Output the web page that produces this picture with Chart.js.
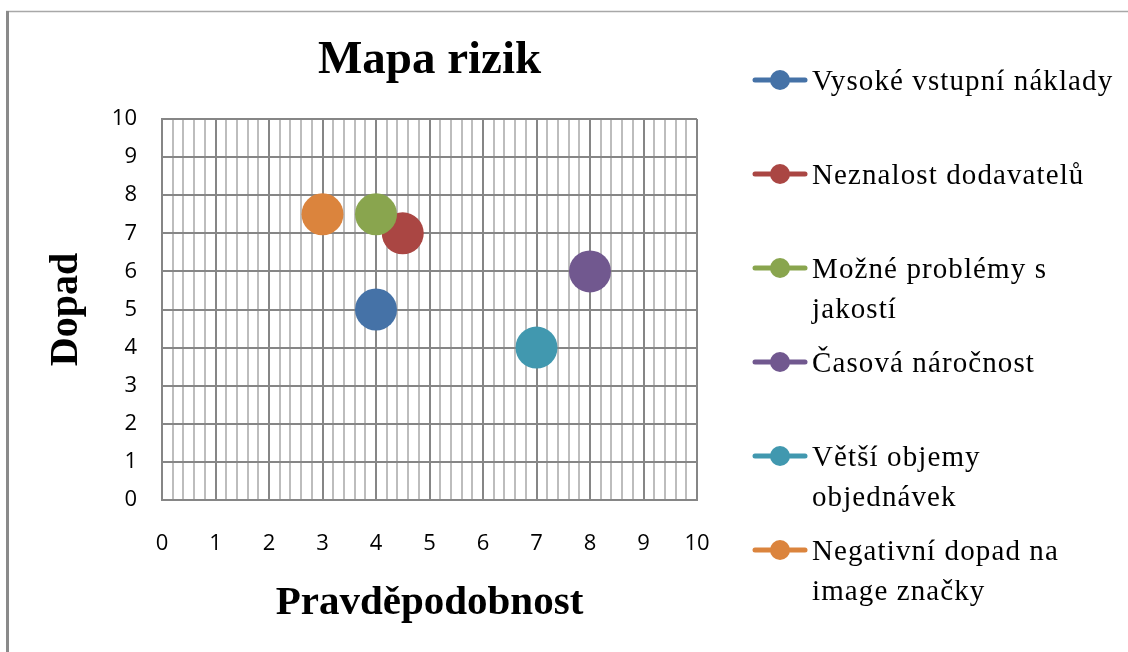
<!DOCTYPE html>
<html lang="cs">
<head>
<meta charset="utf-8">
<title>Mapa rizik</title>
<script src="https://cdn.jsdelivr.net/npm/chart.js@4.4.1/dist/chart.umd.min.js"></script>
<style>
  html, body { margin: 0; padding: 0; background: #fff; }
  #wrap { position: relative; width: 1128px; height: 652px; }
</style>
</head>
<body>
<div id="wrap"><canvas id="riskChart" width="1128" height="652"></canvas></div>
<script>
(function () {
  'use strict';

  // ── Data ────────────────────────────────────────────────────────────────
  var chartTitle = 'Mapa rizik';
  var xTitle = 'Pravděpodobnost';
  var yTitle = 'Dopad';

  var riskNames = [
    'Vysoké vstupní náklady',
    'Neznalost dodavatelů',
    'Možné problémy s jakostí',
    'Časová náročnost',
    'Větší objemy objednávek',
    'Negativní dopad na image značky'
  ];
  var probability = [4, 4.5, 4, 8, 7, 3];
  var impact = [5, 7, 7.5, 6, 4, 7.5];
  var riskColors = ['#4572A7', '#AA4643', '#89A54E', '#71588F', '#4198AF', '#DB843D'];

  var axisMin = 0;
  var axisMax = 10;

  var SERIF = '"Liberation Serif", "Times New Roman", serif';
  var SANS = '"Open Sans", "Liberation Sans", sans-serif';

  function isWhole(v) {
    return Math.abs(v - Math.round(v)) < 1e-6;
  }

  function wrapText(ctx, text, maxWidth) {
    var words = text.split(' ');
    var lines = [];
    var line = '';
    words.forEach(function (w) {
      var test = line ? line + ' ' + w : w;
      if (line && ctx.measureText(test).width > maxWidth) {
        lines.push(line);
        line = w;
      } else {
        line = test;
      }
    });
    if (line) {
      lines.push(line);
    }
    return lines;
  }

  // ── Frame, title and the legend on the right ───────────────────────────
  var decorPlugin = {
    id: 'decor',
    beforeDraw: function (chart) {
      var ctx = chart.ctx;
      ctx.save();
      ctx.fillStyle = '#fff';
      ctx.fillRect(0, 0, chart.width, chart.height);
      ctx.strokeStyle = '#a8a8a8';
      ctx.lineWidth = 1.5;
      ctx.beginPath();
      ctx.moveTo(6, 11.5);
      ctx.lineTo(chart.width, 11.5);
      ctx.stroke();
      ctx.strokeStyle = '#8a8a8a';
      ctx.lineWidth = 3;
      ctx.beginPath();
      ctx.moveTo(7.5, 11);
      ctx.lineTo(7.5, chart.height);
      ctx.stroke();
      ctx.restore();
    },
    afterDraw: function (chart) {
      var ctx = chart.ctx;
      var area = chart.chartArea;
      ctx.save();

      ctx.fillStyle = '#000';
      ctx.font = 'bold 47px ' + SERIF;
      ctx.textAlign = 'center';
      ctx.textBaseline = 'alphabetic';
      ctx.fillText(chartTitle, (area.left + area.right) / 2, 73);

      ctx.font = '29px ' + SERIF;
      ctx.textAlign = 'left';
      if ('letterSpacing' in ctx) {
        ctx.letterSpacing = '1.1px';
      }
      riskNames.forEach(function (name, i) {
        var y = 80 + i * 94;
        ctx.strokeStyle = riskColors[i];
        ctx.lineWidth = 5;
        ctx.lineCap = 'round';
        ctx.beginPath();
        ctx.moveTo(755, y);
        ctx.lineTo(805, y);
        ctx.stroke();
        ctx.fillStyle = riskColors[i];
        ctx.beginPath();
        ctx.arc(780, y, 10, 0, Math.PI * 2);
        ctx.fill();

        ctx.fillStyle = '#000';
        wrapText(ctx, name, 312).forEach(function (line, k) {
          ctx.fillText(line, 812, y + 10 + k * 40);
        });
      });
      ctx.restore();
    }
  };

  var datasets = riskNames.map(function (name, i) {
    return {
      label: name,
      data: [{ x: probability[i], y: impact[i] }],
      backgroundColor: riskColors[i],
      borderWidth: 0,
      pointRadius: 21,
      pointHoverRadius: 21,
      order: -i
    };
  });

  new Chart(document.getElementById('riskChart'), {
    type: 'scatter',
    data: { datasets: datasets },
    plugins: [decorPlugin],
    options: {
      responsive: false,
      animation: false,
      devicePixelRatio: 1,
      layout: { padding: { left: 10, top: 119, right: 431, bottom: 0 } },
      plugins: {
        legend: { display: false },
        title: { display: false },
        tooltip: { enabled: false }
      },
      scales: {
        x: {
          type: 'linear',
          min: axisMin,
          max: axisMax,
          afterFit: function (scale) { scale.height = 152; },
          ticks: {
            stepSize: 0.2,
            autoSkip: false,
            maxRotation: 0,
            padding: 31,
            color: '#000',
            font: { family: SANS, size: 22 },
            callback: function (v) { return isWhole(v) ? String(Math.round(v)) : ''; }
          },
          grid: {
            drawTicks: false,
            color: function (c) { return isWhole(c.tick.value) ? '#868686' : '#bdbdbd'; },
            lineWidth: 2
          },
          border: { color: '#868686', width: 2 },
          title: {
            display: true,
            text: xTitle,
            color: '#000',
            font: { family: SERIF, size: 41, weight: 'bold' },
            padding: { top: 0, bottom: 24 }
          }
        },
        y: {
          type: 'linear',
          min: axisMin,
          max: axisMax,
          afterFit: function (scale) { scale.width = 152; },
          ticks: {
            stepSize: 1,
            padding: 25,
            color: '#000',
            font: { family: SANS, size: 22 }
          },
          grid: { drawTicks: false, color: '#868686', lineWidth: 2 },
          border: { color: '#868686', width: 2 },
          title: {
            display: true,
            text: yTitle,
            color: '#000',
            font: { family: SERIF, size: 40, weight: 'bold' },
            padding: { top: 33, bottom: 0 }
          }
        }
      }
    }
  });

}());
</script>
</body>
</html>
